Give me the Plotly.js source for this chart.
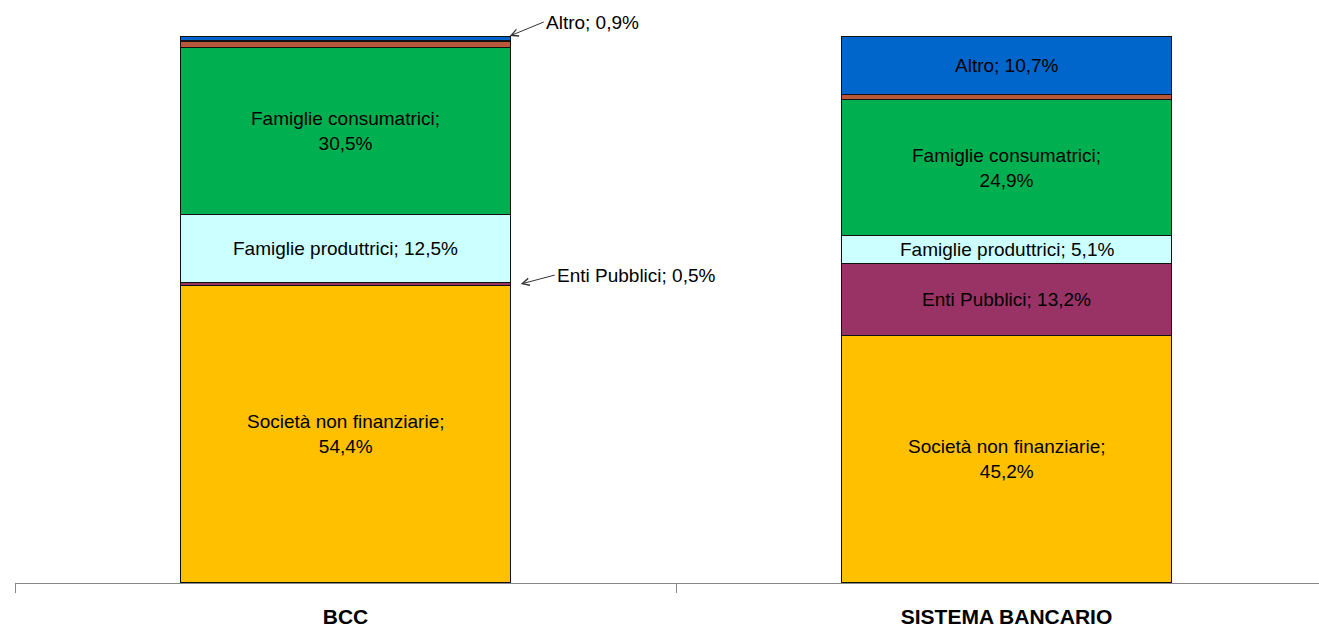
<!DOCTYPE html>
<html>
<head>
<meta charset="utf-8">
<script src="https://cdn.plot.ly/plotly-3.0.1.min.js"></script>
<style>
  html, body { margin: 0; padding: 0; background: #ffffff; }
  #chart { width: 1319px; height: 627px; }
</style>
</head>
<body>
<div id="chart"></div>
<script>
// ---- data ----
const categories = ['BCC', 'SISTEMA BANCARIO'];
const seriesNames = ['Società non finanziarie', 'Enti Pubblici', 'Famiglie produttrici',
                     'Famiglie consumatrici', 'Altri settori', 'Altro'];
const societaNonFinanziarie = [54.4, 45.2];
const entiPubblici = [0.5, 13.2];
const famiglieProduttrici = [12.5, 5.1];
const famiglieConsumatrici = [30.5, 24.9];
const altriSettori = [1.2, 0.9];   // thin unlabeled segment
const altro = [0.9, 10.7];
const labeled = [true, true, true, true, false, true];

// ---- style ----
const seriesValues = [societaNonFinanziarie, entiPubblici, famiglieProduttrici,
                      famiglieConsumatrici, altriSettori, altro];
const colors = ['#FFC000', '#993366', '#CCFFFF', '#00B050', '#B8583A', '#0066CC'];
const xpos = categories.map((c, i) => i);
const labelFont = { family: 'Liberation Sans, Arial, sans-serif', size: 19, color: '#000000' };

const traces = seriesValues.map((vals, s) => ({
  type: 'bar',
  name: seriesNames[s],
  x: xpos,
  y: vals,
  width: 0.5,
  marker: { color: colors[s], line: { color: '#111111', width: 1.4 } },
  hoverinfo: 'skip',
  showlegend: false
}));

function fmt(v) { return v.toFixed(1).replace('.', ',') + '%'; }

const annotations = [];
categories.forEach((cat, c) => {
  let base = 0;
  seriesValues.forEach((vals, s) => {
    const v = vals[c];
    const mid = base + v / 2;
    const top = Math.min(100, Math.round((base + v) * 1000) / 1000);
    base += v;
    if (!labeled[s]) return;
    const name = seriesNames[s];
    if (v >= 3) {
      const txt = name.length > 20 ? name + ';<br>' + fmt(v) : name + '; ' + fmt(v);
      annotations.push({
        x: xpos[c], y: mid, xref: 'x', yref: 'y', text: txt, showarrow: false,
        font: labelFont, align: 'center'
      });
    } else {
      // small segment: callout to the right of the bar
      const isTop = s === seriesValues.length - 1;
      annotations.push({
        x: xpos[c] + 0.25, y: isTop ? top : mid, xref: 'x', yref: 'y',
        text: name + '; ' + fmt(v),
        showarrow: true, arrowhead: 5, arrowsize: 1.4, arrowwidth: 1, arrowcolor: '#333333',
        ax: isTop ? 34 : 34, ay: isTop ? -14 : -9,
        xshift: isTop ? -1 : 10,
        xanchor: 'left', yanchor: 'middle',
        font: labelFont
      });
    }
  });
});

const layout = {
  width: 1319, height: 627,
  margin: { l: 15, r: 0, t: 36, b: 44 },
  paper_bgcolor: '#ffffff', plot_bgcolor: '#ffffff',
  barmode: 'stack',
  showlegend: false,
  hovermode: false,
  xaxis: {
    range: [-0.5, -0.5 + 1304 / 661],
    tickmode: 'array', tickvals: xpos, ticktext: categories,
    ticks: 'outside', ticklen: 15, tickcolor: 'rgba(0,0,0,0)',
    tickfont: { family: 'Liberation Sans, Arial, sans-serif', size: 21, color: '#000000', weight: 'bold' },
    minor: { tickmode: 'array', tickvals: [-0.5, 0.5, 1.5], ticks: 'outside', ticklen: 9,
             tickcolor: '#888888', tickwidth: 1, showgrid: false },
    showline: true, linecolor: '#888888', linewidth: 1,
    showgrid: false, zeroline: false, fixedrange: true
  },
  yaxis: {
    range: [0, 100], visible: false, showgrid: false, zeroline: false, fixedrange: true
  },
  annotations: annotations
};

Plotly.newPlot('chart', traces, layout, { displayModeBar: false, staticPlot: true });
</script>
</body>
</html>
